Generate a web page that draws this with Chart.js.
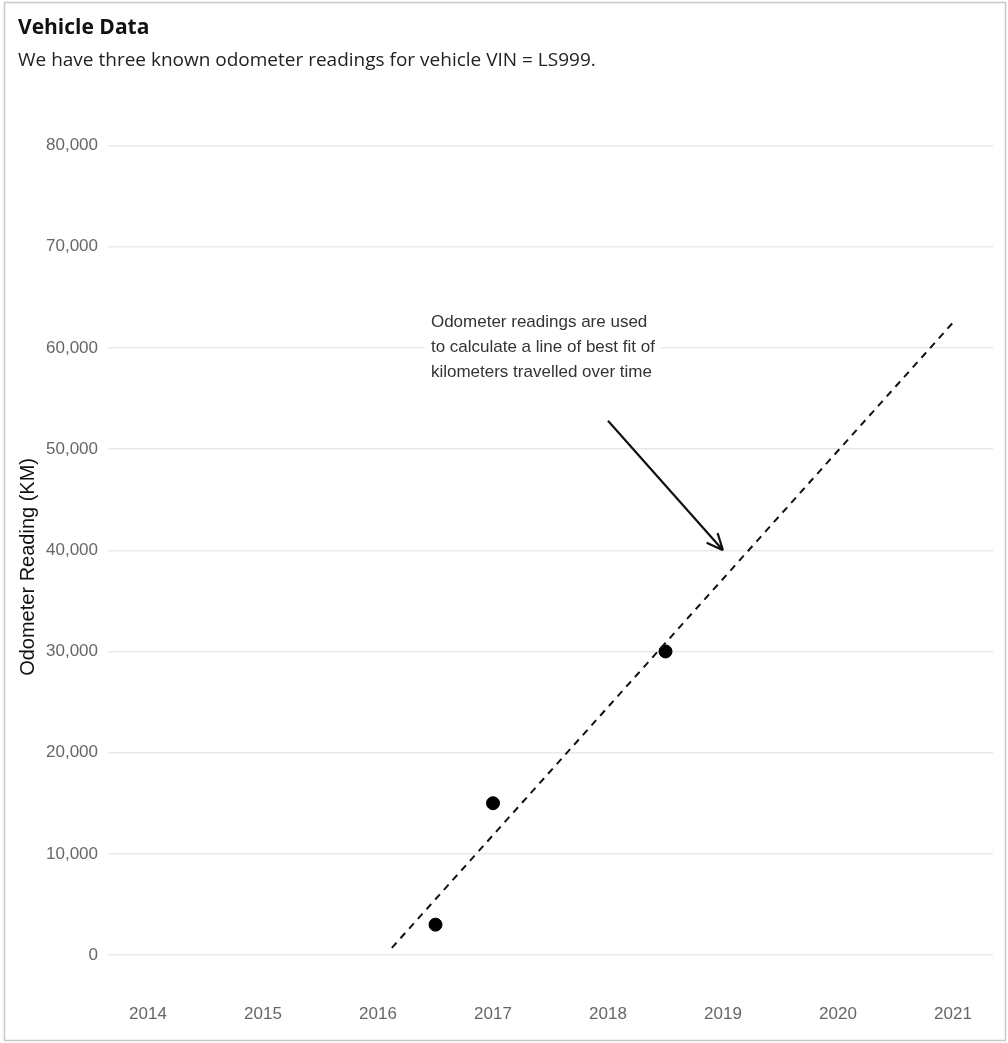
<!DOCTYPE html>
<html>
<head>
<meta charset="utf-8">
<script src="https://cdn.jsdelivr.net/npm/chart.js@4/dist/chart.umd.min.js"></script>
<style>
  body { margin: 0; background: #fff; }
  #wrap { width: 1008px; height: 1043px; position: relative; }
</style>
</head>
<body>
<div id="wrap"><canvas id="myChart" width="1008" height="1043"></canvas></div>
<script>
// odometer readings (year, km)
var readYears = [2016.5, 2017, 2018.5];
var readKm = [3000, 15000, 30000];

// line of best fit end points
var fitYears = [2016.12, 2021];
var fitKm = [700, 62500];

var yearTicks = [2014, 2015, 2016, 2017, 2018, 2019, 2020, 2021];

var noteLines = ["Odometer readings are used", "to calculate a line of best fit of", "kilometers travelled over time"];
var noteAt = [2016.46, 62500];
var arrowFrom = [2018, 52800];
var arrowTo = [2019, 40000];

var frame = {
  id: "frame",
  beforeDraw: function(chart) {
    var c = chart.ctx;
    c.save();
    c.fillStyle = "#fff";
    c.fillRect(0, 0, chart.width, chart.height);
    c.strokeStyle = "#c8c8c8";
    c.lineWidth = 1.5;
    c.strokeRect(4.5, 2.5, 1001, 1038);
    c.restore();
  }
};

var note = {
  id: "note",
  afterDatasetsDraw: function(chart) {
    var c = chart.ctx, x = chart.scales.x, y = chart.scales.y;
    c.save();
    c.font = "17px 'Liberation Sans', Arial, sans-serif";
    var px = x.getPixelForValue(noteAt[0]);
    var py = y.getPixelForValue(noteAt[1]);
    var w = 0;
    noteLines.forEach(function(l){ w = Math.max(w, c.measureText(l).width); });
    c.fillStyle = "#fff";
    c.fillRect(px - 6, py - 12, w + 12, noteLines.length * 25);
    c.fillStyle = "#333";
    c.textBaseline = "middle";
    noteLines.forEach(function(l, i){ c.fillText(l, px, py + i * 25); });

    // arrow
    var x1 = x.getPixelForValue(arrowFrom[0]), y1 = y.getPixelForValue(arrowFrom[1]);
    var x2 = x.getPixelForValue(arrowTo[0]), y2 = y.getPixelForValue(arrowTo[1]);
    c.strokeStyle = "#111";
    c.lineWidth = 2.2;
    c.beginPath();
    c.moveTo(x1, y1);
    c.lineTo(x2, y2);
    var a = Math.atan2(y2 - y1, x2 - x1);
    c.moveTo(x2, y2);
    c.lineTo(x2 - 18 * Math.cos(a - 0.42), y2 - 18 * Math.sin(a - 0.42));
    c.moveTo(x2, y2);
    c.lineTo(x2 - 18 * Math.cos(a + 0.42), y2 - 18 * Math.sin(a + 0.42));
    c.stroke();
    c.restore();
  }
};

var fitPts = fitYears.map(function(v, i){ return {x: v, y: fitKm[i]}; });
var readPts = readYears.map(function(v, i){ return {x: v, y: readKm[i]}; });

new Chart("myChart", {
  type: "scatter",
  data: {
    datasets: [{
      type: "line",
      data: fitPts,
      borderColor: "#111",
      borderWidth: 2,
      borderDash: [7, 6],
      pointRadius: 0,
      fill: false
    }, {
      data: readPts,
      backgroundColor: "#000",
      borderColor: "#000",
      pointRadius: 6.5
    }]
  },
  plugins: [frame, note],
  options: {
    responsive: false,
    animation: false,
    layout: { padding: { left: 18, right: 15, top: 0, bottom: 8 } },
    plugins: {
      legend: { display: false },
      tooltip: { enabled: false },
      title: {
        display: true,
        text: "Vehicle Data",
        align: "start",
        color: "#111",
        font: { family: "'Open Sans', sans-serif", size: 21, weight: "bold", lineHeight: 1.2 },
        padding: { top: 15, bottom: 0 }
      },
      subtitle: {
        display: true,
        text: "We have three known odometer readings for vehicle VIN = LS999.",
        align: "start",
        color: "#222",
        font: { family: "'Open Sans', sans-serif", size: 19, lineHeight: 1.2 },
        padding: { top: 9, bottom: 73.5 }
      }
    },
    scales: {
      x: {
        type: "linear",
        min: 2013.652,
        max: 2021.348,
        grid: { display: false },
        border: { display: false },
        afterBuildTicks: function(s){ s.ticks = yearTicks.map(function(v){ return {value: v}; }); },
        afterFit: function(s){ s.height = 80; s.paddingLeft = 0; s.paddingRight = 0; },
        ticks: {
          padding: 41,
          color: "#666",
          maxRotation: 0,
          font: { family: "'Liberation Sans', Arial, sans-serif", size: 17 },
          callback: function(v){ return String(v); }
        }
      },
      y: {
        min: 0,
        max: 80000,
        afterFit: function(s){ s.width = 90; },
        grid: { color: "#e9e9e9", drawTicks: false, lineWidth: 1.5 },
        border: { display: false },
        ticks: {
          stepSize: 10000,
          padding: 10,
          color: "#666",
          font: { family: "'Liberation Sans', Arial, sans-serif", size: 17 }
        },
        title: {
          display: true,
          text: "Odometer Reading (KM)      ",
          color: "#111",
          padding: 0,
          font: { family: "'Liberation Sans', Arial, sans-serif", size: 20, lineHeight: 1 }
        }
      }
    }
  }
});
</script>
</body>
</html>
